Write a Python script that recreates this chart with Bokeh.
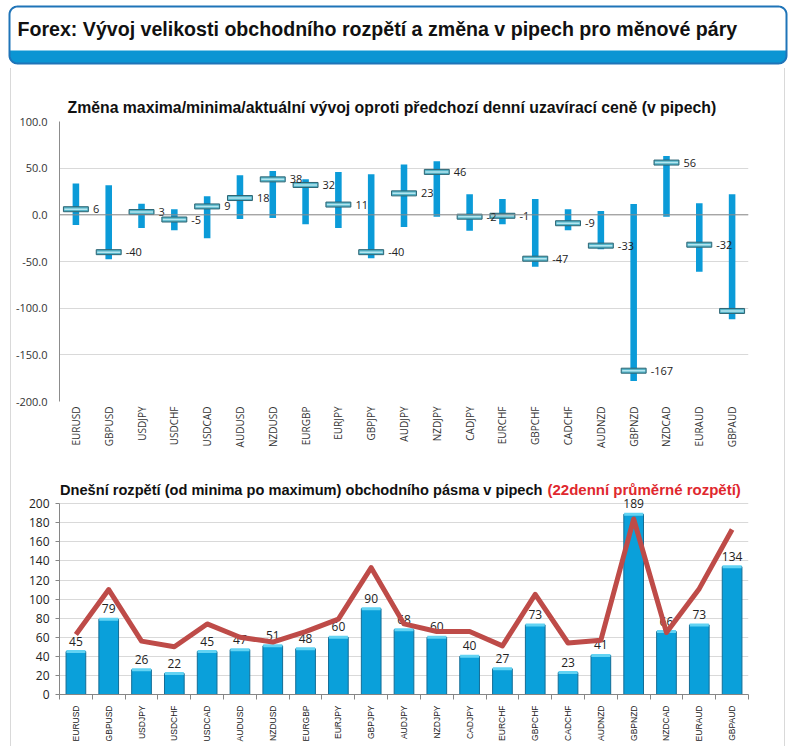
import math
import numpy as np
from bokeh.plotting import figure
from bokeh.models import Range1d, FactorRange, FixedTicker, Span, NumeralTickFormatter
from bokeh.layouts import column
from bokeh.embed import file_html
from bokeh.resources import INLINE
from bokeh.core.properties import value

# ---------------- data ----------------
pairs = ["EURUSD", "GBPUSD", "USDJPY", "USDCHF", "USDCAD", "AUDUSD", "NZDUSD",
         "EURGBP", "EURJPY", "GBPJPY", "AUDJPY", "NZDJPY", "CADJPY", "EURCHF",
         "GBPCHF", "CADCHF", "AUDNZD", "GBPNZD", "NZDCAD", "EURAUD", "GBPAUD"]
change_max = [33.5, 31.8, 12, 6, 20, 42.5, 47, 38, 46, 43.5, 54, 57.5, 22, 17,
              17, 6, 4, 11.5, 63, 12.5, 22]
change_min = [-11, -47.5, -14, -16.5, -25, -4.5, -3.5, -10, -14, -46.5, -13, -2,
              -17, -10, -55.5, -16.5, -37, -178, -2, -61, -112]
change_now = [6, -40, 3, -5, 9, 18, 38, 32, 11, -40, 23, 46, -2, -1, -47, -9,
              -33, -167, 56, -32, -103]
spread_today = [45, 79, 26, 22, 45, 47, 51, 48, 60, 90, 68, 60, 40, 27, 73, 23,
                41, 189, 66, 73, 134]
spread_avg22 = [63, 110, 56, 50, 74, 60, 55, 66, 79, 133, 74, 66, 66, 51, 105,
                54, 57, 184, 65, 111, 173]
y1_ticks = [-200, -150, -100, -50, 0, 50, 100]
y2_ticks = [0, 20, 40, 60, 80, 100, 120, 140, 160, 180, 200]

main_title = "Forex: Vývoj velikosti obchodního rozpětí a změna v pipech pro měnové páry"
title1 = "Změna maxima/minima/aktuální vývoj oproti předchozí denní uzavírací ceně (v pipech)"
title2a = "Dnešní rozpětí (od minima po maximum) obchodního pásma v pipech"
title2b = "(22denní průměrné rozpětí)"

TF = "Liberation Sans"
AF = "Open Sans"

# ---------------- banner ----------------
W = 795
banner = figure(width=W, height=68, x_range=Range1d(0, W), y_range=Range1d(68, 0),
                output_backend="svg", toolbar_location=None, min_border=0,
                x_axis_location=None, y_axis_location=None)
banner.grid.visible = False
banner.outline_line_color = None


def rrect(x0, y0, x1, y1, r, rt=True, rb=True, n=10):
    xs, ys = [], []

    def arc(cx, cy, a0, a1):
        for t in np.linspace(a0, a1, n):
            xs.append(cx + r * np.cos(t))
            ys.append(cy + r * np.sin(t))
    if rt:
        arc(x0 + r, y0 + r, np.pi, 1.5 * np.pi)
        arc(x1 - r, y0 + r, 1.5 * np.pi, 2 * np.pi)
    else:
        xs += [x0, x1]
        ys += [y0, y0]
    if rb:
        arc(x1 - r, y1 - r, 0, 0.5 * np.pi)
        arc(x0 + r, y1 - r, 0.5 * np.pi, np.pi)
    else:
        xs += [x1, x0]
        ys += [y1, y1]
    return xs, ys


bx, by = rrect(9, 6, 786, 63, 8)
banner.patch(bx, by, fill_color="white", line_color=None)
sx, sy = rrect(9, 50, 786, 63, 8, rt=False)
banner.patch(sx, sy, fill_color="#0b95d3", line_color=None)
banner.patch(bx, by, fill_color=None, line_color="#1f74b8", line_width=2)
banner.text(x=[17], y=[28], text=[main_title], text_font=value(TF), text_font_style="bold",
            text_font_size="19.6px", text_baseline="middle", text_color="#111111")

# ---------------- chart 1 ----------------
PW = 773
f1 = figure(width=PW, height=402, x_range=FactorRange(factors=pairs), y_range=Range1d(-200, 100),
            output_backend="svg", toolbar_location=None,
            min_border_left=48, min_border_right=27, min_border_top=53, min_border_bottom=69)
f1.outline_line_color = None
f1.title.text = title1
f1.title.align = "left"
f1.title.offset = 8
f1.title.standoff = 12
f1.title.text_font = TF
f1.title.text_font_style = "bold"
f1.title.text_font_size = "15.8px"
f1.title.text_color = "#111111"
f1.xgrid.visible = False
f1.ygrid.grid_line_color = "#d9d9d9"
f1.yaxis.ticker = FixedTicker(ticks=y1_ticks)
f1.yaxis.formatter = NumeralTickFormatter(format="0.0")
f1.yaxis.axis_line_color = "#8c8c8c"
f1.yaxis.major_tick_line_color = None
f1.yaxis.minor_tick_line_color = None
f1.yaxis.major_tick_out = 0
f1.yaxis.major_label_standoff = 12
f1.yaxis.major_label_text_font = AF
f1.yaxis.major_label_text_font_size = "11px"
f1.yaxis.major_label_text_color = "#333333"
f1.xaxis.axis_line_color = None
f1.xaxis.major_tick_line_color = None
f1.xaxis.major_tick_out = 0
f1.xaxis.major_label_orientation = math.pi / 2
f1.xaxis.major_label_standoff = 5
f1.xaxis.major_label_text_font = AF
f1.xaxis.major_label_text_font_size = "10px"
f1.xaxis.major_label_text_color = "#333333"
f1.add_layout(Span(location=0, dimension="width", line_color="#8c8c8c", line_width=1))

f1.vbar(x=pairs, bottom=change_min, top=change_max, width=0.2, fill_color="#0b9bd8", line_color=None)
f1.rect(x=pairs, y=change_now, width=0.76, height=5, height_units="screen",
        fill_color="#55b4c8", line_color="#2c6473", line_width=1)
f1.rect(x=pairs, y=change_now, width=0.7, height=1.5, height_units="screen",
        fill_color="#b5e6f0", line_color=None)
f1.text(x=pairs, y=change_now, text=[str(v) for v in change_now], x_offset=17,
        text_align="left", text_baseline="middle", text_font=value(AF),
        text_font_size="11px", text_color="#222222")

# ---------------- chart 2 ----------------
# frame extends above the 200 gridline so the two-coloured title sits inside it
xs = np.arange(len(pairs)) + 0.5
Y2TOP = 226.5
f2 = figure(width=PW, height=276, x_range=Range1d(0, len(pairs)), y_range=Range1d(0, Y2TOP),
            output_backend="svg", toolbar_location=None,
            min_border_left=43, min_border_right=36, min_border_top=8, min_border_bottom=52)
f2.outline_line_color = None
f2.xgrid.visible = False
f2.ygrid.grid_line_color = "#d9d9d9"
f2.yaxis.ticker = FixedTicker(ticks=y2_ticks)
f2.yaxis.bounds = (0, 200)
f2.yaxis.axis_line_color = "#868686"
f2.yaxis.major_tick_line_color = "#868686"
f2.yaxis.major_tick_out = 4
f2.yaxis.major_tick_in = 0
f2.yaxis.minor_tick_line_color = None
f2.yaxis.major_label_standoff = 6
f2.yaxis.major_label_text_font = AF
f2.yaxis.major_label_text_font_size = "12px"
f2.yaxis.major_label_text_color = "#222222"
f2.xaxis.ticker = FixedTicker(ticks=list(xs), minor_ticks=list(range(len(pairs) + 1)))
f2.xaxis.major_label_overrides = {float(x): p for x, p in zip(xs, pairs)}
f2.xaxis.axis_line_color = "#868686"
f2.xaxis.major_tick_line_color = None
f2.xaxis.major_tick_out = 0
f2.xaxis.major_tick_in = 0
f2.xaxis.minor_tick_line_color = "#868686"
f2.xaxis.minor_tick_out = 5
f2.xaxis.minor_tick_in = 0
f2.xaxis.major_label_orientation = math.pi / 2
f2.xaxis.major_label_standoff = 6
f2.xaxis.major_label_text_font = TF
f2.xaxis.major_label_text_font_size = "8.5px"
f2.xaxis.major_label_text_color = "#222222"

f2.vbar(x=xs, top=spread_today, width=0.6, fill_color="#0aa0da", line_color="#136d96", line_width=1)
f2.rect(x=xs, y=spread_today, width=0.58, height=3, height_units="screen",
        fill_color="#62d3f3", line_color=None)
f2.text(x=xs, y=spread_today, text=[str(v) for v in spread_today], y_offset=-6,
        text_align="center", text_baseline="bottom", text_font=value(AF),
        text_font_size="12px", text_color="#222222")
f2.line(x=xs, y=spread_avg22, line_color="#be4b48", line_width=5, line_join="round")

# chart 2 title (black + red part), anchored at the frame's top-left
f2.text(x=[0], y=[Y2TOP], text=[title2a], x_offset=483, y_offset=11, text_font=value(TF),
        text_font_style="bold", text_font_size="14.6px", text_baseline="middle",
        text_align="right", text_color="#111111")
f2.text(x=[0], y=[Y2TOP], text=[title2b], x_offset=488, y_offset=11, text_font=value(TF),
        text_font_style="bold", text_font_size="15px", text_baseline="middle",
        text_align="left", text_color="#e0282e")

panel = column(f1, f2, spacing=0,
               styles={"margin-left": "10px", "border-left": "1px solid #d9d9d9",
                       "border-right": "1px solid #d9d9d9"})
root = column(banner, panel, spacing=0)

open("out.html", "w").write(file_html(root, INLINE))
